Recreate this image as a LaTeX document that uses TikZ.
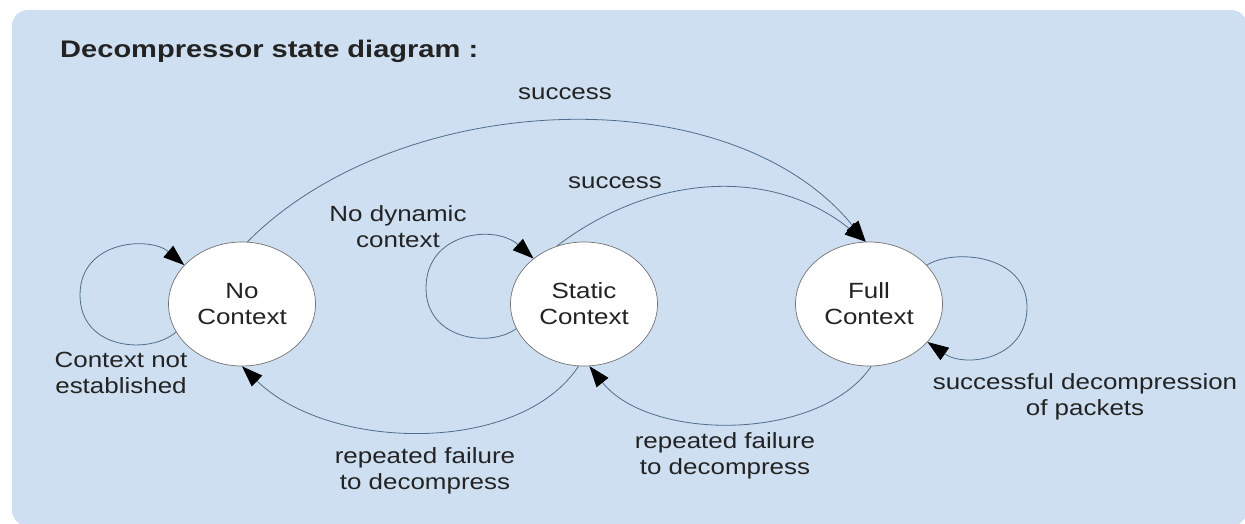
\documentclass[tikz,border=0pt]{standalone}
\usepackage{fontspec}
\usepackage{graphicx}
\setmainfont{Liberation Sans}
\usetikzlibrary{shapes.geometric,arrows.meta}
\definecolor{bg}{RGB}{205,223,240}
\definecolor{ln}{RGB}{80,110,140}
\definecolor{tx}{RGB}{35,35,35}
\newcommand\hx[1]{\scalebox{1.18}[1]{#1}}
\begin{document}
\begin{tikzpicture}[x=1pt,y=-1pt,
 state/.style={ellipse, draw=black!55, line width=0.7pt, fill=white, minimum width=147pt, minimum height=124pt, inner sep=0pt, font=\fontsize{22}{26}\selectfont, text=tx, align=center},
 lab/.style={font=\fontsize{22}{26}\selectfont, text=tx, align=center, xscale=1.18, transform shape, inner sep=0pt},
 conn/.style={draw=ln, line width=0.8pt, -{Triangle[length=21pt,width=15pt,fill=black,color=black]}},
]
\useasboundingbox (0,0) rectangle (1245,524);
\fill[bg, rounded corners=16pt] (12,10) rectangle (1247,526);

\node[font=\bfseries\fontsize{24}{28}\selectfont, text=tx, anchor=base west, xscale=1.21, transform shape, inner sep=0pt] (title) at (60,58) {Decompressor state diagram :};

\node[state] (NC) at (242,304) {\hx{No}\\\hx{Context}};
\node[state] (SC) at (584,304) {\hx{Static}\\\hx{Context}};
\node[state] (FC) at (869,304) {\hx{Full}\\\hx{Context}};

\draw[conn] (NC.203) .. controls (150,355) and (80,350) .. (80,295) .. controls (80,240) and (150,236) .. (NC.146);
\draw[conn] (SC.200) .. controls (490,348) and (426,340) .. (426,288) .. controls (426,232) and (495,224) .. (SC.138);
\draw[conn] (FC.34) .. controls (955,248) and (1027,255) .. (1027,307) .. controls (1027,360) and (965,368) .. (FC.327);

\draw[conn] (NC.85) .. controls (400,88) and (730,75) .. (FC.93);
\draw[conn] (SC.115) .. controls (650,175) and (770,165) .. (FC.93);
\draw[conn] (SC.265) .. controls (520,455) and (330,452) .. (NC.270);
\draw[conn] (FC.272) .. controls (820,442) and (650,442) .. (SC.275);

\node[lab] (l1) at (565,94) {success};
\node[lab] (l2) at (615,183) {success};
\node[lab] (l3) at (398,227) {No dynamic\\context};
\node[lab] (l4) at (121,373) {Context not\\established};
\node[lab] (l5) at (1085,397) {successful decompression\\of packets};
\node[lab] (l6) at (425,471) {repeated failure\\to decompress};
\node[lab] (l7) at (725,456) {repeated failure\\to decompress};
\end{tikzpicture}
\end{document}
